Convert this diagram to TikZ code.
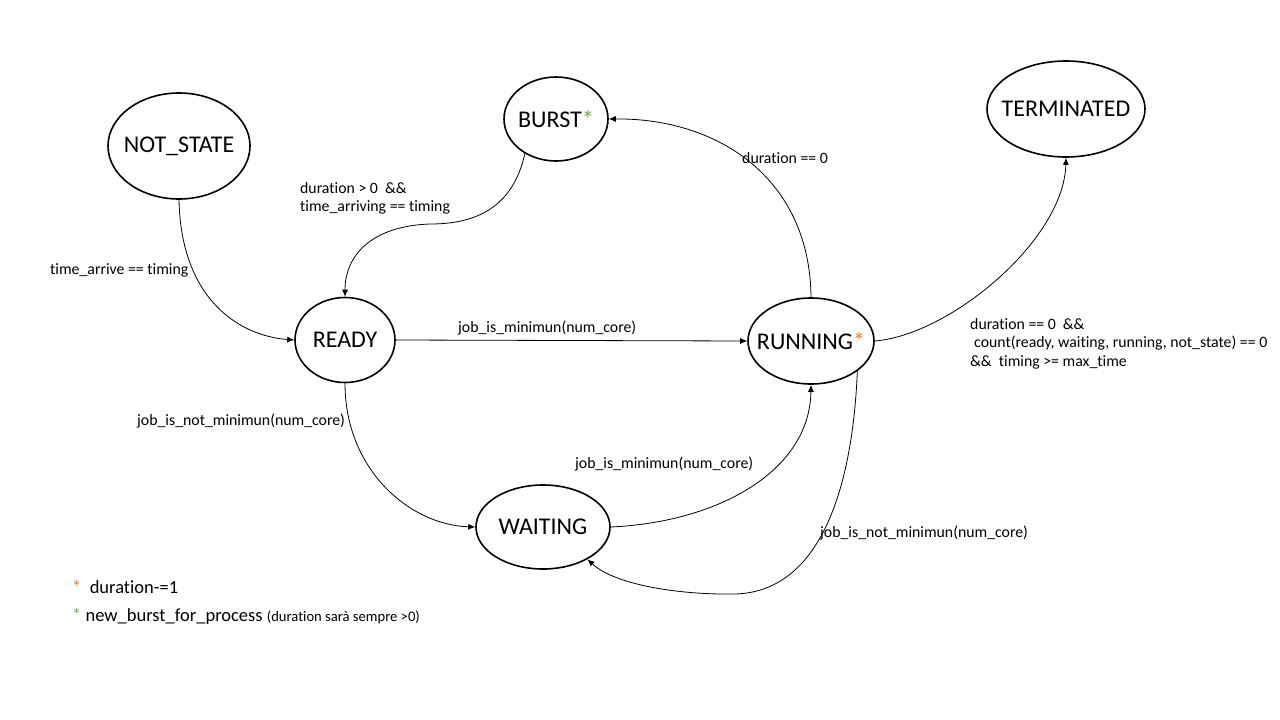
\documentclass[tikz,border=0pt]{standalone}
\usepackage{fontspec}
\setmainfont{Carlito}[Ligatures={NoCommon}]
\usetikzlibrary{shapes.geometric,arrows.meta}
\definecolor{orng}{RGB}{237,125,49}
\definecolor{grn}{RGB}{112,173,71}
\newcommand{\zb}[1]{\makebox[0pt]{#1}}
\tikzset{
  state/.style={draw, ellipse, line width=1.6pt, inner sep=0pt, font=\fontsize{24}{28}\selectfont},
  lbl/.style={font=\fontsize{15.8}{19}\selectfont, inner sep=0pt, anchor=west},
  legend/.style={font=\fontsize{18.5}{22}\selectfont, inner sep=0pt, anchor=west},
  tr/.style={-{Latex[length=7pt,width=6pt]}, line width=0.8pt},
}
\begin{document}
\begin{tikzpicture}[x=1pt,y=-1pt]
\useasboundingbox[fill=white] (0,0) rectangle (1280,720);
% states
\node[state, minimum width=142pt, minimum height=106pt] (ns) at (179,146) {\zb{NOT\_STATE}};
\node[state, minimum width=104pt, minimum height=84pt] (burst) at (556,119) {\zb{BURST{\color{grn}*}}};
\node[state, minimum width=158pt, minimum height=96pt] (term) at (1066,109) {\zb{TERMINATED}};
\node[state, minimum width=100pt, minimum height=85pt] (ready) at (345,340) {\zb{READY}};
\node[state, minimum width=126pt, minimum height=86pt] (run) at (811,341) {\zb{RUNNING{\color{orng}*}}};
\node[state, minimum width=134pt, minimum height=84pt] (wait) at (543,527) {\zb{WAITING}};
% transitions
\draw[tr] (ns.south) .. controls (181,300) and (240,336) .. (ready.west);
\draw[tr] (burst.228) .. controls (512,212) and (470,224) .. (430,224)
          .. controls (372,226) and (345,255) .. (ready.north);
\draw[tr] (ready.east) -- (run.west);
\draw[tr] (run.north) .. controls (810,180) and (720,118) .. (burst.east);
\draw[tr] (run.east) .. controls (950,335) and (1064,240) .. (term.south);
\draw[tr] (ready.south) .. controls (345,470) and (410,525) .. (wait.west);
\draw[tr] (wait.east) .. controls (720,522) and (810,470) .. (run.south);
\draw[tr] (run.-33) .. controls (852,500) and (815,592) .. (735,594)
          .. controls (680,595) and (615,585) .. (wait.-36);
% labels
\node[lbl] (l1) at (50,270) {time\_arrive == timing};
\node[lbl] (l2a) at (300,188) {duration > 0\ \ \&\&};
\node[lbl] (l2b) at (300,207) {time\_arriving == timing};
\node[lbl] (l3) at (742,158) {duration == 0};
\node[lbl] (l4) at (458,328) {job\_is\_minimun(num\_core)};
\node[lbl] (l5) at (137,421) {job\_is\_not\_minimun(num\_core)};
\node[lbl] (l6) at (575,464) {job\_is\_minimun(num\_core)};
\node[lbl] (l7) at (820,533) {job\_is\_not\_minimun(num\_core)};
\node[lbl] (l8a) at (970,324) {duration == 0\ \ \&\&};
\node[lbl] (l8b) at (974,343) {count(ready, waiting, running, not\_state) == 0};
\node[lbl] (l8c) at (970,362) {\&\&\ \ timing >= max\_time};
% legend
\node[legend] (g1) at (72,587) {{\color{orng}*}\ \ duration-=1};
\node[legend] (g2) at (72,616) {{\color{grn}*} new\_burst\_for\_process {\fontsize{14.6}{17}\selectfont (duration sarà sempre >0)}};
\end{tikzpicture}
\end{document}
